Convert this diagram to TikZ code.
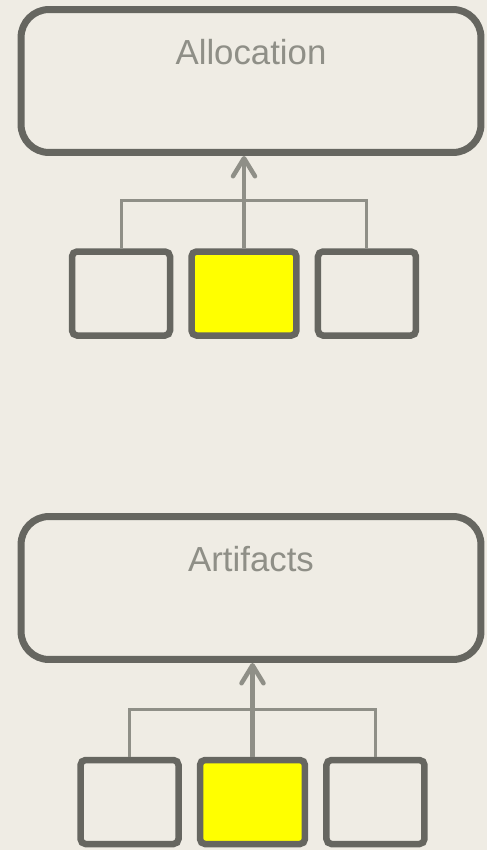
\documentclass[tikz,border=0pt]{standalone}
\usepackage{fontspec}
\setmainfont{Liberation Sans}
\usetikzlibrary{arrows.meta,positioning}
\definecolor{bgPaper}{RGB}{239,236,228}
\definecolor{mBoxGray}{RGB}{102,102,96}
\definecolor{linkcolor}{RGB}{143,143,135}
\definecolor{hlcolor}{RGB}{255,255,0}

\begin{document}
\begin{tikzpicture}[x=0.02cm, y=-0.02cm, node distance=0.3cm,
    layer/.style={draw=mBoxGray, line width=0.14cm, rounded corners=0.56cm,
      minimum width=9.2cm, minimum height=2.86cm},
    item/.style={draw=mBoxGray, line width=0.13cm, rounded corners=0.1cm,
      minimum width=1.96cm, minimum height=1.68cm, inner sep=0pt},
    hlitem/.style={item, fill=hlcolor, minimum width=2.1cm},
    title/.style={text=linkcolor, font=\fontsize{19.8}{24}\selectfont, anchor=base},
    link/.style={draw=linkcolor, line width=0.06cm},
    uplink/.style={draw=linkcolor, line width=0.09cm,
      -{Straight Barb[length=0.36cm, width=0.44cm, round]}}]
    % page
    \useasboundingbox[fill=bgPaper] (0,0) rectangle (487,850);
    % upper group: allocation
    \node[layer] (alloc) at (251,81) {};
    \node[title] (allocTitle) at ([yshift=-1.17cm]alloc.north) {Allocation};
    \node[hlitem] (allocM) at (244,293.5) {};
    \node[item, left=of allocM] (allocL) {};
    \node[item, right=of allocM] (allocR) {};
    \coordinate (allocBar) at ([yshift=0.95cm]allocM.north);
    \draw[link] (allocL.north) |- (allocBar) -| (allocR.north);
    \draw[uplink] (allocM.north) -- (allocM.north |- alloc.south);
    % lower group: artifacts
    \node[layer] (artif) at (251,588) {};
    \node[title] (artifTitle) at ([yshift=-1.17cm]artif.north) {Artifacts};
    \node[hlitem] (artifM) at (252.5,802) {};
    \node[item, left=of artifM] (artifL) {};
    \node[item, right=of artifM] (artifR) {};
    \coordinate (artifBar) at ([yshift=0.95cm]artifM.north);
    \draw[link] (artifL.north) |- (artifBar) -| (artifR.north);
    \draw[uplink] (artifM.north) -- (artifM.north |- artif.south);
  \end{tikzpicture}
\end{document}
